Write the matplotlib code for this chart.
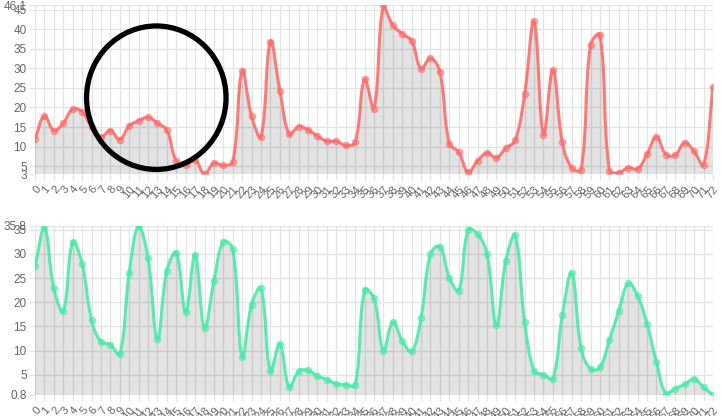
import numpy as np
import matplotlib
matplotlib.use("Agg")
import matplotlib.pyplot as plt
from matplotlib.path import Path
from matplotlib.patches import PathPatch, Ellipse

# ------------------- dados -------------------
indices = list(range(73))

serie_vermelha = [12.0, 17.8, 14.1, 16.0, 19.6, 18.9, 15.0, 12.5, 14.1, 11.8,
                  15.3, 16.6, 17.5, 16.0, 14.2, 6.4, 5.2, 6.6, 3.0, 5.8,
                  5.2, 6.1, 29.3, 17.7, 12.5, 36.8, 24.3, 13.2, 15.1, 14.3,
                  12.7, 11.4, 11.4, 10.3, 11.1, 27.2, 19.7, 46.1, 41.0, 38.8,
                  37.0, 29.9, 32.6, 29.0, 10.8, 8.6, 3.5, 6.4, 8.4, 7.2,
                  9.6, 11.6, 23.5, 42.0, 13.1, 29.6, 11.1, 4.6, 4.1, 36.0,
                  38.5, 3.8, 3.4, 4.6, 4.3, 8.1, 12.5, 8.0, 7.9, 11.0,
                  8.8, 5.3, 25.2]

serie_verde = [27.4, 35.5, 22.9, 18.1, 32.4, 28.0, 16.4, 11.8, 11.2, 9.2,
               26.0, 35.8, 29.1, 12.3, 26.5, 30.2, 18.0, 29.7, 14.7, 24.4,
               32.5, 31.0, 8.7, 19.5, 22.9, 5.8, 11.4, 2.4, 5.7, 5.9,
               4.7, 4.0, 3.1, 2.9, 2.8, 22.5, 20.8, 10.0, 15.9, 12.0,
               9.8, 16.8, 30.0, 31.5, 25.1, 22.4, 35.0, 34.1, 30.0, 15.2,
               28.6, 33.8, 15.9, 5.8, 5.0, 4.2, 17.3, 26.1, 10.5, 6.2,
               6.5, 12.2, 18.2, 23.9, 21.3, 15.5, 7.6, 1.1, 2.1, 3.0,
               4.1, 2.4, 0.8]

ticks_y_vermelho = [3, 5, 10, 15, 20, 25, 30, 35, 40, 45, 46.1]
ticks_y_verde = [0.8, 5, 10, 15, 20, 25, 30, 35, 35.8]

COR_VERMELHA = "#ff6b6b"
COR_VERDE = "#48eaa8"
COR_GRADE = "#e4e4e4"
COR_TEXTO = "#666666"
TENSAO = 0.4

plt.rcParams['font.family'] = ['Liberation Sans', 'DejaVu Sans']


def curva_suave(x, y, esc_x, esc_y, ymin, ymax):
    """Curva bezier no estilo Chart.js (tensao 0.4)."""
    x = np.asarray(x, float)
    y = np.asarray(y, float)
    n = len(x)
    px, py = x * esc_x, y * esc_y
    ctrl_ant = np.zeros((n, 2))
    ctrl_prox = np.zeros((n, 2))
    for i in range(n):
        a = max(i - 1, 0)
        b = min(i + 1, n - 1)
        d01 = np.hypot(px[i] - px[a], py[i] - py[a])
        d12 = np.hypot(px[b] - px[i], py[b] - py[i])
        tot = d01 + d12
        s01 = d01 / tot if tot else 0
        s12 = d12 / tot if tot else 0
        fa, fb = TENSAO * s01, TENSAO * s12
        dx, dy = px[b] - px[a], py[b] - py[a]
        ctrl_ant[i] = (px[i] - fa * dx, py[i] - fa * dy)
        ctrl_prox[i] = (px[i] + fb * dx, py[i] + fb * dy)
    ctrl_ant[:, 0] /= esc_x
    ctrl_prox[:, 0] /= esc_x
    ctrl_ant[:, 1] = np.clip(ctrl_ant[:, 1] / esc_y, ymin, ymax)
    ctrl_prox[:, 1] = np.clip(ctrl_prox[:, 1] / esc_y, ymin, ymax)

    verts = [(x[0], y[0])]
    codes = [Path.MOVETO]
    for i in range(n - 1):
        verts += [tuple(ctrl_prox[i]), tuple(ctrl_ant[i + 1]), (x[i + 1], y[i + 1])]
        codes += [Path.CURVE4] * 3
    return verts, codes


def desenha(ax, valores, cor, ticks_y, esc_y):
    ymin, ymax = ticks_y[0], ticks_y[-1]
    verts, codes = curva_suave(indices, valores, 9.42, esc_y, ymin, ymax)

    # area preenchida
    vf = verts + [(indices[-1], ymin), (indices[0], ymin), (indices[0], ymin)]
    cf = codes + [Path.LINETO, Path.LINETO, Path.CLOSEPOLY]
    ax.add_patch(PathPatch(Path(vf, cf), facecolor=(0, 0, 0, 0.11),
                           edgecolor='none', zorder=2))
    # linha
    ax.add_patch(PathPatch(Path(verts, codes), facecolor='none',
                           edgecolor=cor, lw=2.2, alpha=0.9, zorder=3,
                           capstyle='round', joinstyle='round'))
    ax.plot(indices, valores, 'o', ms=4.5, color=cor, alpha=0.55,
            mec=cor, mew=1, zorder=4)

    ax.set_xlim(0, 72)
    ax.set_ylim(ymin, ymax)
    ax.set_xticks(indices)
    ax.set_xticklabels([str(i) for i in indices], rotation=50,
                       ha='right', va='top', rotation_mode='anchor')
    ax.set_yticks(ticks_y)
    ax.set_yticklabels([f"{t:g}" for t in ticks_y])
    ax.grid(True, color=COR_GRADE, lw=0.9, zorder=0)
    ax.set_axisbelow(True)
    for s in ax.spines.values():
        s.set_visible(False)
    ax.tick_params(axis='both', colors=COR_GRADE, labelcolor=COR_TEXTO,
                   labelsize=8.5, length=4, width=0.9, pad=2)
    ax.tick_params(axis='x', labelsize=8.2, pad=3)


fig = plt.figure(figsize=(7.22, 4.16), dpi=100)
ax1 = fig.add_axes([0.0485, 0.5815, 0.939, 0.406])
ax2 = fig.add_axes([0.0485, 0.0505, 0.939, 0.4067])

desenha(ax1, serie_vermelha, COR_VERMELHA, ticks_y_vermelho, 3.92)
desenha(ax2, serie_verde, COR_VERDE, ticks_y_verde, 4.82)

# circulo preto sobreposto (em pixels da figura)
W, H = 722, 416
fig.patches.append(Ellipse((156.3 / W, 1 - 97.7 / H), 139.5 / W, 143.5 / H,
                           transform=fig.transFigure, fill=False,
                           edgecolor='black', lw=3.8, zorder=10))

fig.savefig("out.png", dpi=100)
